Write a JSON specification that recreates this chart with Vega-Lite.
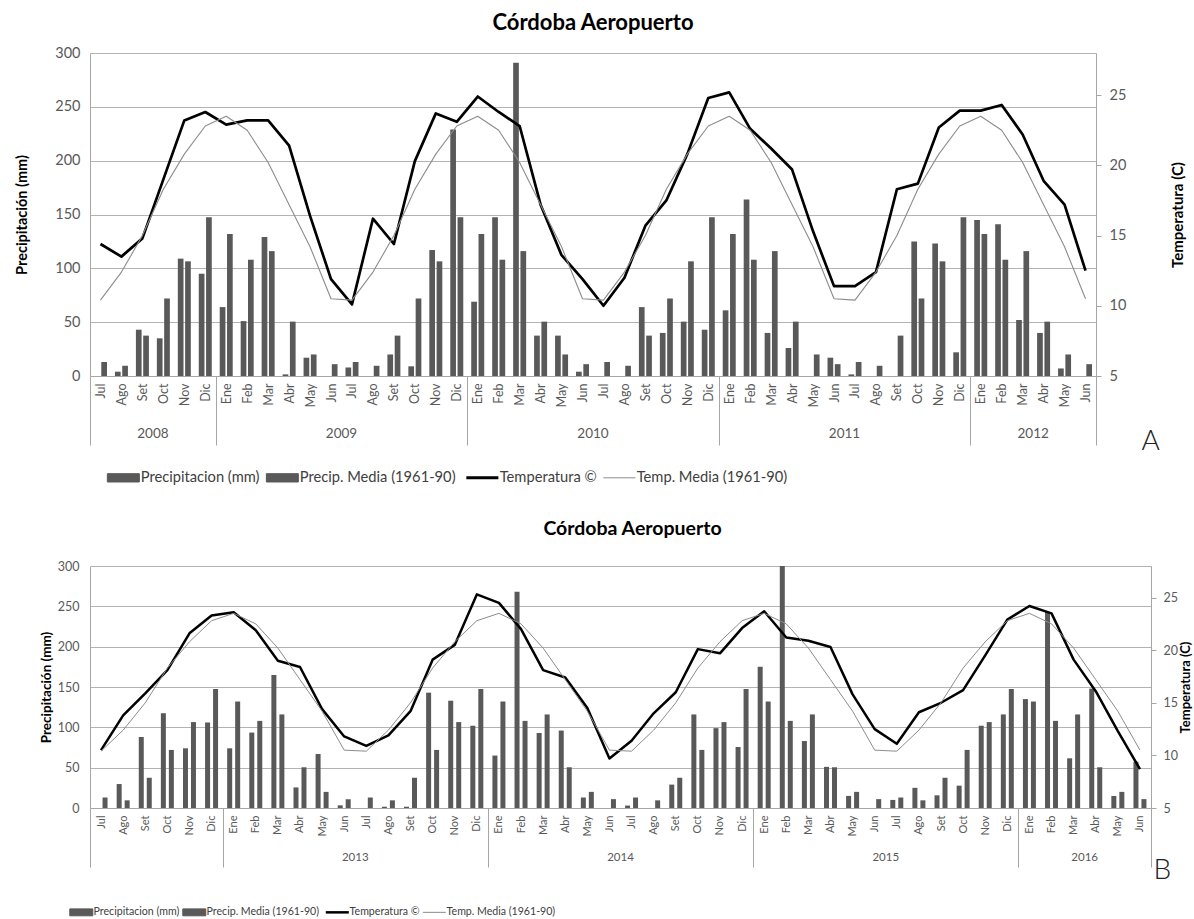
{
  "$schema": "https://vega.github.io/schema/vega-lite/v6.json",
  "background": "white",
  "padding": {"left": 14, "top": 12, "right": 0, "bottom": 0},
  "config": {
    "view": {"stroke": null},
    "font": "Lato",
    "axis": {"labelFont": "Lato", "titleFont": "Lato"},
    "legend": {"labelFont": "Lato"},
    "title": {"font": "Lato"}
  },
  "datasets": {
    "a": [
      {"ym": "2008-07", "pp": 0, "ppm": 13, "t": 14.4, "tm": 10.4},
      {"ym": "2008-08", "pp": 4, "ppm": 9.5, "t": 13.5, "tm": 12.4},
      {"ym": "2008-09", "pp": 43, "ppm": 37.5, "t": 14.8, "tm": 15.0},
      {"ym": "2008-10", "pp": 35, "ppm": 72, "t": 19.0, "tm": 18.3},
      {"ym": "2008-11", "pp": 109, "ppm": 106.5, "t": 23.2, "tm": 20.8},
      {"ym": "2008-12", "pp": 95, "ppm": 147.5, "t": 23.8, "tm": 22.8},
      {"ym": "2009-01", "pp": 64, "ppm": 132, "t": 22.9, "tm": 23.5},
      {"ym": "2009-02", "pp": 51, "ppm": 108, "t": 23.2, "tm": 22.5},
      {"ym": "2009-03", "pp": 129, "ppm": 116, "t": 23.2, "tm": 20.2},
      {"ym": "2009-04", "pp": 1.5, "ppm": 50.5, "t": 21.4, "tm": 17.2},
      {"ym": "2009-05", "pp": 17, "ppm": 20, "t": 16.4, "tm": 14.2},
      {"ym": "2009-06", "pp": 0, "ppm": 11, "t": 11.9, "tm": 10.5},
      {"ym": "2009-07", "pp": 8, "ppm": 13, "t": 10.1, "tm": 10.4},
      {"ym": "2009-08", "pp": 0, "ppm": 9.5, "t": 16.2, "tm": 12.4},
      {"ym": "2009-09", "pp": 20, "ppm": 37.5, "t": 14.4, "tm": 15.0},
      {"ym": "2009-10", "pp": 9, "ppm": 72, "t": 20.3, "tm": 18.3},
      {"ym": "2009-11", "pp": 117, "ppm": 106.5, "t": 23.7, "tm": 20.8},
      {"ym": "2009-12", "pp": 229, "ppm": 147.5, "t": 23.1, "tm": 22.8},
      {"ym": "2010-01", "pp": 69, "ppm": 132, "t": 24.9, "tm": 23.5},
      {"ym": "2010-02", "pp": 147.5, "ppm": 108, "t": 23.8, "tm": 22.5},
      {"ym": "2010-03", "pp": 291, "ppm": 116, "t": 22.8, "tm": 20.2},
      {"ym": "2010-04", "pp": 37.5, "ppm": 50.5, "t": 17.2, "tm": 17.2},
      {"ym": "2010-05", "pp": 37.5, "ppm": 20, "t": 13.6, "tm": 14.2},
      {"ym": "2010-06", "pp": 4, "ppm": 11, "t": 11.9, "tm": 10.5},
      {"ym": "2010-07", "pp": 0, "ppm": 13, "t": 10.0, "tm": 10.4},
      {"ym": "2010-08", "pp": 0, "ppm": 9.5, "t": 12.0, "tm": 12.4},
      {"ym": "2010-09", "pp": 64, "ppm": 37.5, "t": 15.7, "tm": 15.0},
      {"ym": "2010-10", "pp": 40, "ppm": 72, "t": 17.5, "tm": 18.3},
      {"ym": "2010-11", "pp": 50.5, "ppm": 106.5, "t": 20.8, "tm": 20.8},
      {"ym": "2010-12", "pp": 43, "ppm": 147.5, "t": 24.8, "tm": 22.8},
      {"ym": "2011-01", "pp": 61, "ppm": 132, "t": 25.2, "tm": 23.5},
      {"ym": "2011-02", "pp": 164, "ppm": 108, "t": 22.6, "tm": 22.5},
      {"ym": "2011-03", "pp": 40, "ppm": 116, "t": 21.2, "tm": 20.2},
      {"ym": "2011-04", "pp": 26, "ppm": 50.5, "t": 19.7, "tm": 17.2},
      {"ym": "2011-05", "pp": 0, "ppm": 20, "t": 15.3, "tm": 14.2},
      {"ym": "2011-06", "pp": 17, "ppm": 11, "t": 11.4, "tm": 10.5},
      {"ym": "2011-07", "pp": 1.5, "ppm": 13, "t": 11.4, "tm": 10.4},
      {"ym": "2011-08", "pp": 0, "ppm": 9.5, "t": 12.4, "tm": 12.4},
      {"ym": "2011-09", "pp": 0, "ppm": 37.5, "t": 18.3, "tm": 15.0},
      {"ym": "2011-10", "pp": 125, "ppm": 72, "t": 18.7, "tm": 18.3},
      {"ym": "2011-11", "pp": 123, "ppm": 106.5, "t": 22.7, "tm": 20.8},
      {"ym": "2011-12", "pp": 22, "ppm": 147.5, "t": 23.9, "tm": 22.8},
      {"ym": "2012-01", "pp": 145, "ppm": 132, "t": 23.9, "tm": 23.5},
      {"ym": "2012-02", "pp": 141, "ppm": 108, "t": 24.3, "tm": 22.5},
      {"ym": "2012-03", "pp": 52, "ppm": 116, "t": 22.2, "tm": 20.2},
      {"ym": "2012-04", "pp": 40, "ppm": 50.5, "t": 18.9, "tm": 17.2},
      {"ym": "2012-05", "pp": 7, "ppm": 20, "t": 17.2, "tm": 14.2},
      {"ym": "2012-06", "pp": 0, "ppm": 11, "t": 12.5, "tm": 10.5}
    ],
    "b": [
      {"ym": "2012-07", "pp": 0, "ppm": 13, "t": 10.5, "tm": 10.4},
      {"ym": "2012-08", "pp": 29.7, "ppm": 9.5, "t": 13.8, "tm": 12.4},
      {"ym": "2012-09", "pp": 88, "ppm": 37.5, "t": 15.9, "tm": 15.0},
      {"ym": "2012-10", "pp": 117.5, "ppm": 72, "t": 18.1, "tm": 18.3},
      {"ym": "2012-11", "pp": 74, "ppm": 106.5, "t": 21.6, "tm": 20.8},
      {"ym": "2012-12", "pp": 106, "ppm": 147.5, "t": 23.3, "tm": 22.8},
      {"ym": "2013-01", "pp": 74, "ppm": 132, "t": 23.6, "tm": 23.5},
      {"ym": "2013-02", "pp": 93.5, "ppm": 108, "t": 21.9, "tm": 22.5},
      {"ym": "2013-03", "pp": 165, "ppm": 116, "t": 19.0, "tm": 20.2},
      {"ym": "2013-04", "pp": 25.5, "ppm": 50.5, "t": 18.4, "tm": 17.2},
      {"ym": "2013-05", "pp": 67, "ppm": 20, "t": 14.4, "tm": 14.2},
      {"ym": "2013-06", "pp": 3.3, "ppm": 11, "t": 11.8, "tm": 10.5},
      {"ym": "2013-07", "pp": 0, "ppm": 13, "t": 10.9, "tm": 10.4},
      {"ym": "2013-08", "pp": 1.6, "ppm": 9.5, "t": 11.9, "tm": 12.4},
      {"ym": "2013-09", "pp": 1.6, "ppm": 37.5, "t": 14.2, "tm": 15.0},
      {"ym": "2013-10", "pp": 143, "ppm": 72, "t": 19.1, "tm": 18.3},
      {"ym": "2013-11", "pp": 133, "ppm": 106.5, "t": 20.5, "tm": 20.8},
      {"ym": "2013-12", "pp": 102, "ppm": 147.5, "t": 25.3, "tm": 22.8},
      {"ym": "2014-01", "pp": 65, "ppm": 132, "t": 24.5, "tm": 23.5},
      {"ym": "2014-02", "pp": 268, "ppm": 108, "t": 22.0, "tm": 22.5},
      {"ym": "2014-03", "pp": 93, "ppm": 116, "t": 18.1, "tm": 20.2},
      {"ym": "2014-04", "pp": 96, "ppm": 50.5, "t": 17.4, "tm": 17.2},
      {"ym": "2014-05", "pp": 13, "ppm": 20, "t": 14.5, "tm": 14.2},
      {"ym": "2014-06", "pp": 0, "ppm": 11, "t": 9.7, "tm": 10.5},
      {"ym": "2014-07", "pp": 3, "ppm": 13, "t": 11.4, "tm": 10.4},
      {"ym": "2014-08", "pp": 0, "ppm": 9.5, "t": 14.0, "tm": 12.4},
      {"ym": "2014-09", "pp": 29, "ppm": 37.5, "t": 16.0, "tm": 15.0},
      {"ym": "2014-10", "pp": 116, "ppm": 72, "t": 20.1, "tm": 18.3},
      {"ym": "2014-11", "pp": 99, "ppm": 106.5, "t": 19.7, "tm": 20.8},
      {"ym": "2014-12", "pp": 75.6, "ppm": 147.5, "t": 22.1, "tm": 22.8},
      {"ym": "2015-01", "pp": 175, "ppm": 132, "t": 23.7, "tm": 23.5},
      {"ym": "2015-02", "pp": 300, "ppm": 108, "t": 21.2, "tm": 22.5},
      {"ym": "2015-03", "pp": 83, "ppm": 116, "t": 20.9, "tm": 20.2},
      {"ym": "2015-04", "pp": 51, "ppm": 50.5, "t": 20.3, "tm": 17.2},
      {"ym": "2015-05", "pp": 15, "ppm": 20, "t": 15.8, "tm": 14.2},
      {"ym": "2015-06", "pp": 0, "ppm": 11, "t": 12.5, "tm": 10.5},
      {"ym": "2015-07", "pp": 10, "ppm": 13, "t": 11.1, "tm": 10.4},
      {"ym": "2015-08", "pp": 25, "ppm": 9.5, "t": 14.1, "tm": 12.4},
      {"ym": "2015-09", "pp": 15.7, "ppm": 37.5, "t": 15.0, "tm": 15.0},
      {"ym": "2015-10", "pp": 27.7, "ppm": 72, "t": 16.2, "tm": 18.3},
      {"ym": "2015-11", "pp": 102, "ppm": 106.5, "t": 19.5, "tm": 20.8},
      {"ym": "2015-12", "pp": 116, "ppm": 147.5, "t": 22.9, "tm": 22.8},
      {"ym": "2016-01", "pp": 135, "ppm": 132, "t": 24.2, "tm": 23.5},
      {"ym": "2016-02", "pp": 243, "ppm": 108, "t": 23.5, "tm": 22.5},
      {"ym": "2016-03", "pp": 61.6, "ppm": 116, "t": 19.1, "tm": 20.2},
      {"ym": "2016-04", "pp": 148, "ppm": 50.5, "t": 16.1, "tm": 17.2},
      {"ym": "2016-05", "pp": 15, "ppm": 20, "t": 12.3, "tm": 14.2},
      {"ym": "2016-06", "pp": 57.4, "ppm": 11, "t": 8.7, "tm": 10.5}
    ]
  },
  "spacing": 33,
  "resolve": {
    "scale": {"color": "independent", "strokeWidth": "independent", "x": "independent", "y": "independent", "xOffset": "independent"},
    "legend": {"color": "independent"}
  },
  "vconcat": [
    {
      "data": {"name": "a"},
      "width": 1006,
      "height": 323,
      "title": {"text": "Córdoba Aeropuerto", "fontSize": 22, "fontWeight": "bold", "color": "#000000", "anchor": "middle", "offset": 10},
      "layer": [
        {
          "transform": [{"fold": ["pp", "ppm"], "as": ["serie", "valor"]}],
          "mark": {"type": "bar"},
          "encoding": {
            "x": {
              "field": "ym", "type": "ordinal",
              "scale": {"type": "band", "paddingInner": 0, "paddingOuter": 0},
              "axis": {
                "orient": "bottom", "title": null,
                "labelExpr": "datum.extra ? '' : ['Ene','Feb','Mar','Abr','May','Jun','Jul','Ago','Set','Oct','Nov','Dic'][toNumber(slice(datum.value,5,7))-1]",
                "labelAngle": 270, "labelFontSize": 12.5, "labelColor": "#595959", "labelOverlap": false, "labelBound": false,
                "tickBand": "extent", "tickSize": 69, "tickColor": "#a6a6a6", "tickWidth": 1,
                "tickOpacity": {"condition": {"test": "datum.extra || slice(datum.value,5,7) == '12' || datum.value == '2012-06'", "value": 1}, "value": 0},
                "labelPadding": -62, "domainColor": "#a6a6a6", "grid": false
              }
            },
            "xOffset": {"field": "serie", "type": "nominal", "scale": {"domain": ["pp", "ppm"], "paddingInner": 0.22, "paddingOuter": 0.545}},
            "y": {
              "field": "valor", "type": "quantitative",
              "scale": {"domain": [0, 300], "nice": false},
              "axis": {
                "orient": "left", "title": "Precipitación (mm)", "values": [0, 50, 100, 150, 200, 250, 300],
                "ticks": false, "domainColor": "#a6a6a6", "grid": true, "gridColor": "#b3b3b3",
                "labelFontSize": 14.5, "labelColor": "#595959", "labelPadding": 10,
                "titleFontSize": 14.5, "titleFontWeight": "bold", "titleColor": "#000000", "titlePadding": 25
              }
            },
            "color": {
              "field": "serie", "type": "nominal",
              "scale": {"domain": ["pp", "ppm", "t", "tm"], "range": ["#595959", "#595959", "#000000", "#8c8c8c"]},
              "legend": {
                "orient": "none", "legendX": 26, "legendY": 417, "direction": "horizontal", "title": null,
                "labelExpr": "datum.value == 'pp' ? 'Precipitacion (mm)' : datum.value == 'ppm' ? 'Precip. Media (1961-90)' : datum.value == 't' ? 'Temperatura ©' : 'Temp. Media (1961-90)'",
                "symbolSize": 1024, "labelFontSize": 14.7, "labelColor": "#404040", "labelOffset": 10, "columnPadding": 4,
                "encode": {
                  "symbols": {
                    "update": {
                      "shape": {"signal": "datum.value == 't' || datum.value == 'tm' ? 'M-1,0H1' : 'M-1,-0.26H1V0.26H-1Z'"},
                      "fill": {"signal": "datum.value == 't' || datum.value == 'tm' ? 'transparent' : '#595959'"},
                      "stroke": {"signal": "datum.value == 't' ? '#000000' : datum.value == 'tm' ? '#8c8c8c' : 'transparent'"},
                      "strokeWidth": {"signal": "datum.value == 't' ? 3 : 1"},
                      "opacity": {"value": 1}
                    }
                  }
                }
              }
            }
          }
        },
        {
          "transform": [{"fold": ["t", "tm"], "as": ["serie", "valor"]}],
          "mark": {"type": "line", "strokeJoin": "round"},
          "encoding": {
            "x": {
              "field": "ym", "type": "ordinal",
              "scale": {"type": "band", "paddingInner": 0, "paddingOuter": 0},
              "axis": {
                "orient": "bottom",
                "values": ["2008-09", "2009-06", "2010-06", "2011-06", "2012-03"],
                "labelExpr": "slice(datum.value,0,4)", "labelOffset": 10.48, "labelAngle": 0,
                "labelPadding": 50, "labelFontSize": 13.5, "labelColor": "#595959", "labelOverlap": false, "labelBound": false,
                "ticks": false, "domain": false, "grid": false,
                "title": "A", "titleX": 1051, "titleY": 65, "titleAlign": "left", "titleBaseline": "middle",
                "titleFontSize": 28, "titleFontWeight": 300, "titleColor": "#222222"
              }
            },
            "y": {
              "field": "valor", "type": "quantitative",
              "scale": {"domain": [5, 28], "nice": false, "zero": false},
              "axis": {
                "orient": "right", "title": "Temperatura  (C)", "values": [5, 10, 15, 20, 25],
                "grid": false, "ticks": true, "tickSize": 5, "tickColor": "#a6a6a6", "domainColor": "#a6a6a6",
                "labelFontSize": 14.5, "labelColor": "#595959", "labelPadding": 8,
                "titleFontSize": 15, "titleFontWeight": "bold", "titleColor": "#000000", "titleAngle": 270, "titlePadding": 60
              }
            },
            "color": {
              "field": "serie", "type": "nominal",
              "scale": {"domain": ["pp", "ppm", "t", "tm"], "range": ["#595959", "#595959", "#000000", "#8c8c8c"]}
            },
            "strokeWidth": {"field": "serie", "type": "nominal", "scale": {"domain": ["t", "tm"], "range": [2.7, 1.1]}, "legend": null}
          }
        }
      ],
      "resolve": {"scale": {"y": "independent"}, "axis": {"x": "independent"}}
    },
    {
      "data": {"name": "b"},
      "width": 1061,
      "height": 242,
      "title": {"text": "Córdoba Aeropuerto", "fontSize": 19.5, "fontWeight": "bold", "color": "#000000", "anchor": "middle", "offset": 21, "dx": 12},
      "layer": [
        {
          "transform": [{"fold": ["pp", "ppm"], "as": ["serie", "valor"]}],
          "mark": {"type": "bar"},
          "encoding": {
            "x": {
              "field": "ym", "type": "ordinal",
              "scale": {"type": "band", "paddingInner": 0, "paddingOuter": 0},
              "axis": {
                "orient": "bottom", "title": null,
                "labelExpr": "datum.extra ? '' : ['Ene','Feb','Mar','Abr','May','Jun','Jul','Ago','Set','Oct','Nov','Dic'][toNumber(slice(datum.value,5,7))-1]",
                "labelAngle": 270, "labelFontSize": 11, "labelColor": "#595959", "labelOverlap": false, "labelBound": false,
                "tickBand": "extent", "tickSize": 59, "tickColor": "#a6a6a6", "tickWidth": 1,
                "tickOpacity": {"condition": {"test": "datum.extra || slice(datum.value,5,7) == '12' || datum.value == '2016-06'", "value": 1}, "value": 0},
                "labelPadding": -52, "domainColor": "#a6a6a6", "grid": false
              }
            },
            "xOffset": {"field": "serie", "type": "nominal", "scale": {"domain": ["pp", "ppm"], "paddingInner": 0.375, "paddingOuter": 0.57}},
            "y": {
              "field": "valor", "type": "quantitative",
              "scale": {"domain": [0, 300], "nice": false},
              "axis": {
                "orient": "left", "title": "Precipitación (mm)", "values": [0, 50, 100, 150, 200, 250, 300],
                "ticks": false, "domainColor": "#a6a6a6", "grid": true, "gridColor": "#b3b3b3",
                "labelFontSize": 12.5, "labelColor": "#595959", "labelPadding": 11,
                "titleFontSize": 13.5, "titleFontWeight": "bold", "titleColor": "#000000", "titlePadding": 4
              }
            },
            "color": {
              "field": "serie", "type": "nominal",
              "scale": {"domain": ["pp", "ppm", "t", "tm"], "range": ["#595959", "#595959", "#000000", "#8c8c8c"]},
              "legend": {
                "orient": "none", "legendX": -14, "legendY": 341, "direction": "horizontal", "title": null,
                "labelExpr": "datum.value == 'pp' ? 'Precipitacion (mm)' : datum.value == 'ppm' ? 'Precip. Media (1961-90)' : datum.value == 't' ? 'Temperatura ©' : 'Temp. Media (1961-90)'",
                "symbolSize": 529, "labelFontSize": 10.6, "labelColor": "#404040", "labelOffset": 7, "columnPadding": 0,
                "encode": {
                  "symbols": {
                    "update": {
                      "shape": {"signal": "datum.value == 't' || datum.value == 'tm' ? 'M-1,0H1' : 'M-1,-0.3H1V0.3H-1Z'"},
                      "fill": {"signal": "datum.value == 't' || datum.value == 'tm' ? 'transparent' : '#595959'"},
                      "stroke": {"signal": "datum.value == 't' ? '#000000' : datum.value == 'tm' ? '#8c8c8c' : 'transparent'"},
                      "strokeWidth": {"signal": "datum.value == 't' ? 2.5 : 1"},
                      "opacity": {"value": 1}
                    }
                  }
                }
              }
            }
          }
        },
        {
          "transform": [{"fold": ["t", "tm"], "as": ["serie", "valor"]}],
          "mark": {"type": "line", "strokeJoin": "round"},
          "encoding": {
            "x": {
              "field": "ym", "type": "ordinal",
              "scale": {"type": "band", "paddingInner": 0, "paddingOuter": 0},
              "axis": {
                "orient": "bottom",
                "values": ["2013-06", "2014-06", "2015-06", "2016-03"],
                "labelExpr": "slice(datum.value,0,4)", "labelOffset": 11.05, "labelAngle": 0,
                "labelPadding": 43, "labelFontSize": 11.5, "labelColor": "#595959", "labelOverlap": false, "labelBound": false,
                "ticks": false, "domain": false, "grid": false,
                "title": "B", "titleX": 1063, "titleY": 62, "titleAlign": "left", "titleBaseline": "middle",
                "titleFontSize": 28, "titleFontWeight": 300, "titleColor": "#222222"
              }
            },
            "y": {
              "field": "valor", "type": "quantitative",
              "scale": {"domain": [5, 28], "nice": false, "zero": false},
              "axis": {
                "orient": "right", "title": "Temperatura (C)", "values": [5, 10, 15, 20, 25],
                "grid": false, "ticks": true, "tickSize": 5, "tickColor": "#a6a6a6", "domainColor": "#a6a6a6",
                "labelFontSize": 12.5, "labelColor": "#595959", "labelPadding": 7,
                "titleFontSize": 13, "titleFontWeight": "bold", "titleColor": "#000000", "titleAngle": 270, "titlePadding": 15
              }
            },
            "color": {
              "field": "serie", "type": "nominal",
              "scale": {"domain": ["pp", "ppm", "t", "tm"], "range": ["#595959", "#595959", "#000000", "#8c8c8c"]}
            },
            "strokeWidth": {"field": "serie", "type": "nominal", "scale": {"domain": ["t", "tm"], "range": [2.5, 1]}, "legend": null}
          }
        }
      ],
      "resolve": {"scale": {"y": "independent"}, "axis": {"x": "independent"}}
    }
  ]
}
